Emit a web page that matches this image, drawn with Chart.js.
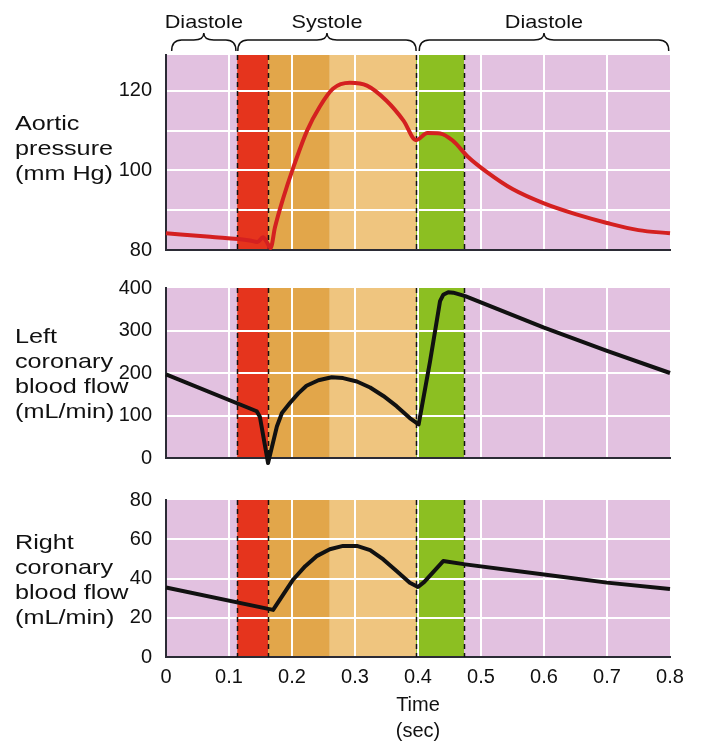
<!DOCTYPE html>
<html>
<head>
<meta charset="utf-8">
<script src="https://cdn.jsdelivr.net/npm/chart.js@4.4.1/dist/chart.umd.min.js"></script>
<style>
  body { margin: 0; background: #fff; overflow: hidden; }
  #wrap { position: relative; width: 703px; height: 744px; font-family: 'Liberation Sans', Arial, sans-serif; }
  canvas { position: absolute; left: 0; }
  .lab { position: absolute; left: 15px; font-size: 21px; line-height: 25px; color: #111;
         transform: scaleX(1.2); transform-origin: left top; white-space: nowrap; }
</style>
</head>
<body>
<div id="wrap">
  <canvas id="c1" width="703" height="262" style="top:0"></canvas>
  <canvas id="c2" width="703" height="200" style="top:270px"></canvas>
  <canvas id="c3" width="703" height="264" style="top:480px"></canvas>
  <div class="lab" style="top:110px">Aortic<br>pressure<br>(mm Hg)</div>
  <div class="lab" style="top:323px">Left<br>coronary<br>blood flow<br>(mL/min)</div>
  <div class="lab" style="top:529px">Right<br>coronary<br>blood flow<br>(mL/min)</div>
</div>
<script>
// Daten (Zeit in s)
const aorticTime = [0, 0.07, 0.133, 0.145, 0.154, 0.16, 0.166, 0.173, 0.186, 0.202, 0.224, 0.244, 0.265, 0.292, 0.319, 0.35, 0.377, 0.397, 0.415, 0.435, 0.455, 0.48, 0.51, 0.55, 0.6, 0.65, 0.7, 0.75, 0.8];
const aorticPressure = [84.2, 83.3, 82.4, 82.0, 83.2, 82.0, 80.5, 85.7, 93, 100.7, 110, 116, 120.5, 122, 121.3, 117.5, 112.5, 107.6, 109.4, 109.3, 107.5, 103.3, 99.5, 95.3, 91.7, 89, 86.8, 85, 84.2];

const leftTime = [0, 0.144, 0.149, 0.162, 0.176, 0.184, 0.197, 0.21, 0.223, 0.242, 0.263, 0.281, 0.303, 0.324, 0.345, 0.366, 0.387, 0.401, 0.419, 0.435, 0.44, 0.448, 0.456, 0.475, 0.6, 0.7, 0.8];
const leftFlow = [197, 110, 97, -12, 74, 106, 130, 152, 170, 183, 190, 188, 180, 166, 146, 122, 94, 79, 226, 369, 384, 390, 389, 381, 307, 252, 200];

const rightTime = [0, 0.17, 0.186, 0.202, 0.221, 0.239, 0.26, 0.281, 0.303, 0.324, 0.345, 0.366, 0.387, 0.4, 0.41, 0.44, 0.475, 0.6, 0.7, 0.8];
const rightFlow = [35.4, 24, 31.8, 39.5, 46.3, 51.4, 54.9, 56.6, 56.6, 54.5, 49.7, 43.8, 37.8, 35.7, 38.3, 48.9, 47.2, 42, 37.9, 34.6];

// Phasen des Herzzyklus
const phaseEdges = [0, 0.113, 0.162, 0.26, 0.397, 0.473, 0.8];
const dashedAt = [0.113, 0.162, 0.397, 0.473];
const cycleLabels = ['Diastole', 'Systole', 'Diastole'];
const cycleEdges = [0.009, 0.111, 0.114, 0.397, 0.402, 0.798];

const phaseColors = ['#e2c1e0', '#e5341d', '#e2a64a', '#efc57f', '#8cbf22', '#e2c1e0'];
const FONT = "'Liberation Sans', Arial, sans-serif";

const bandsPlugin = {
  id: 'bands',
  beforeDraw(chart) {
    const {ctx, chartArea: a, scales: {x}} = chart;
    ctx.save();
    for (let i = 0; i < phaseColors.length; i++) {
      const x0 = x.getPixelForValue(phaseEdges[i]);
      const x1 = x.getPixelForValue(phaseEdges[i + 1]);
      ctx.fillStyle = phaseColors[i];
      ctx.fillRect(x0, a.top, x1 - x0, a.bottom - a.top);
    }
    ctx.restore();
  },
  beforeDatasetsDraw(chart) {
    const {ctx, chartArea: a, scales: {x}} = chart;
    ctx.save();
    ctx.strokeStyle = '#111';
    ctx.lineWidth = 1.5;
    ctx.setLineDash([5, 4]);
    dashedAt.forEach(t => {
      const px = Math.round(x.getPixelForValue(t)) + 0.5;
      ctx.beginPath();
      ctx.moveTo(px, a.top);
      ctx.lineTo(px, a.bottom);
      ctx.stroke();
    });
    ctx.restore();
  }
};

// geschweifte Klammern + Beschriftung oben
const bracesPlugin = {
  id: 'braces',
  afterDraw(chart) {
    const {ctx, scales: {x}} = chart;
    const yEnd = 51, yBar = 40, yTip = 33, r = 10;
    ctx.save();
    ctx.strokeStyle = '#111';
    ctx.lineWidth = 1.5;
    ctx.fillStyle = '#111';
    ctx.font = '19px ' + FONT;
    ctx.textAlign = 'center';
    ctx.textBaseline = 'alphabetic';
    cycleLabels.forEach((lab, i) => {
      const x0 = x.getPixelForValue(cycleEdges[2 * i]);
      const x1 = x.getPixelForValue(cycleEdges[2 * i + 1]);
      const xm = (x0 + x1) / 2;
      ctx.beginPath();
      ctx.moveTo(x0, yEnd);
      ctx.quadraticCurveTo(x0, yBar, x0 + r, yBar);
      ctx.lineTo(xm - r, yBar);
      ctx.quadraticCurveTo(xm, yBar, xm, yTip);
      ctx.quadraticCurveTo(xm, yBar, xm + r, yBar);
      ctx.lineTo(x1 - r, yBar);
      ctx.quadraticCurveTo(x1, yBar, x1, yEnd);
      ctx.stroke();
      ctx.save();
      ctx.translate(xm, 28);
      ctx.scale(1.14, 1);
      ctx.fillText(lab, 0, 0);
      ctx.restore();
    });
    ctx.restore();
  }
};

function points(xs, ys) {
  return xs.map((t, i) => ({x: t, y: ys[i]}));
}

function makeChart(id, xs, ys, color, y, opts) {
  const xTicks = opts.xTicks;
  const ds = {
    data: points(xs, ys),
    borderColor: color,
    borderWidth: 4,
    pointRadius: 0,
    borderJoinStyle: 'round',
    clip: false
  };
  if (opts.smooth) ds.cubicInterpolationMode = 'monotone';
  else ds.tension = 0;
  return new Chart(document.getElementById(id), {
    type: 'line',
    data: { datasets: [ds] },
    options: {
      responsive: false,
      animation: false,
      devicePixelRatio: 1,
      layout: { padding: { top: opts.top, bottom: opts.bottom, right: 33, left: 0 } },
      plugins: { legend: { display: false }, tooltip: { enabled: false } },
      scales: {
        x: {
          type: 'linear', min: 0, max: 0.8,
          afterFit(s) { s.height = opts.xHeight; },
          border: { color: '#2b2b35', width: 2 },
          grid: {
            drawTicks: false, lineWidth: 2,
            color: c => (c.tick.value < 1e-6 || Math.abs(c.tick.value - 0.8) < 1e-6) ? 'rgba(0,0,0,0)' : '#ffffff'
          },
          ticks: {
            display: xTicks, stepSize: 0.1, padding: 8, color: '#111',
            font: { family: FONT, size: 20 },
            callback: v => Math.abs(v) < 1e-6 ? '0' : v.toFixed(1)
          },
          title: {
            display: xTicks, text: ['Time', '(sec)'], color: '#111',
            font: { family: FONT, size: 20, lineHeight: 1.3 },
            padding: { top: 0, bottom: 0 }
          }
        },
        y: {
          min: y.min, max: y.max,
          afterFit(s) { s.width = 166; s.paddingTop = 0; s.paddingBottom = 0; },
          border: { color: '#2b2b35', width: 2 },
          grid: {
            drawTicks: false, lineWidth: 2,
            color: c => (c.tick.value === y.min || c.tick.value === y.max) ? 'rgba(0,0,0,0)' : '#ffffff'
          },
          ticks: {
            stepSize: y.step, includeBounds: false, padding: 14, color: '#111',
            font: { family: FONT, size: 20 },
            callback: v => (v % y.label === 0 ? v : '')
          }
        }
      }
    },
    plugins: opts.braces ? [bandsPlugin, bracesPlugin] : [bandsPlugin]
  });
}

makeChart('c1', aorticTime, aorticPressure, '#d42020',
  { min: 80, max: 129, step: 10, label: 20 },
  { top: 55, bottom: 12, xHeight: 0, xTicks: false, braces: true, smooth: true });
makeChart('c2', leftTime, leftFlow, '#111111',
  { min: 0, max: 400, step: 100, label: 100 },
  { top: 18, bottom: 12, xHeight: 0, xTicks: false });
makeChart('c3', rightTime, rightFlow, '#111111',
  { min: 0, max: 80, step: 20, label: 20 },
  { top: 20, bottom: 0, xHeight: 87, xTicks: true });
</script>
</body>
</html>
